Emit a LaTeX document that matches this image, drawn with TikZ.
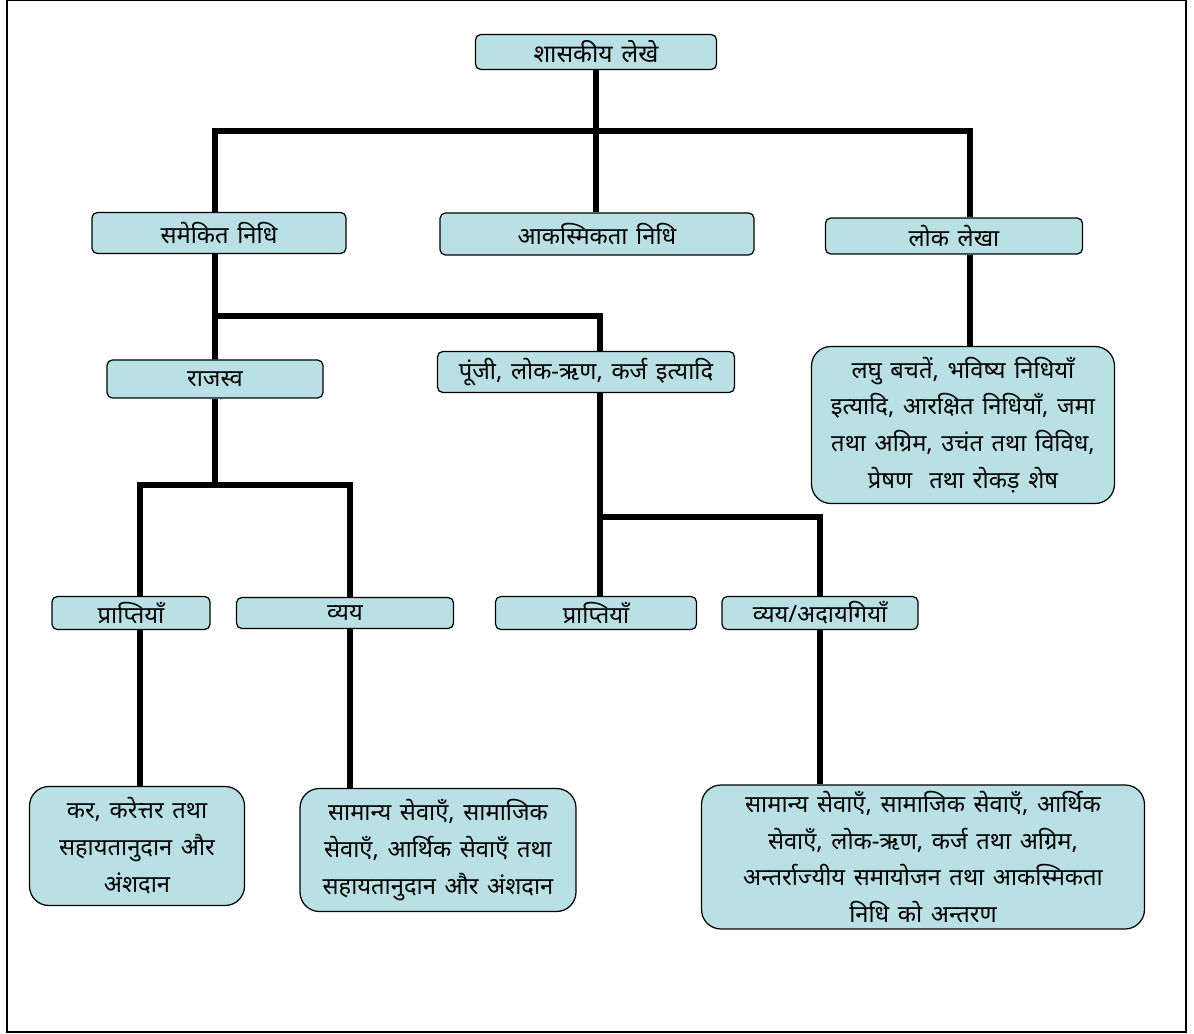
\documentclass[tikz,border=0pt]{standalone}
\usepackage{fontspec}
\newfontfamily\dev[Script=Devanagari,WordSpace=1.4]{Noto Sans}
\definecolor{boxfill}{RGB}{185,224,228}
\tikzset{
  box/.style={draw,fill=boxfill,rounded corners=3pt,line width=0.7pt,inner sep=0pt,
    font=\dev\fontsize{13.5}{21}\selectfont,align=center},
  bigbox/.style={box,rounded corners=11pt},
  link/.style={line width=3.2pt}
}
\begin{document}
\begin{tikzpicture}[x=0.02cm,y=-0.02cm]
\useasboundingbox (0,0) rectangle (1194,1034);
\draw[line width=0.8pt] (7,0.5) rectangle (1186,1032);
% boxes
\node[box,minimum width=4.82cm,minimum height=0.7cm,font=\dev\bfseries\fontsize{14}{21}\selectfont] (root) at (596,52) {शासकीय लेखे};
\node[box,minimum width=5.08cm,minimum height=0.82cm] (sam) at (219,233) {समेकित निधि};
\node[box,minimum width=6.28cm,minimum height=0.84cm] (akas) at (597,234) {आकस्मिकता निधि};
\node[box,minimum width=5.14cm,minimum height=0.72cm] (lok) at (954,236) {लोक लेखा};
\node[box,minimum width=4.32cm,minimum height=0.76cm] (rev) at (215,379) {राजस्व};
\node[box,minimum width=5.94cm,minimum height=0.82cm] (cap) at (586,372) {पूंजी, लोक-ऋण, कर्ज इत्यादि};
\node[bigbox,minimum width=6.06cm,minimum height=3.14cm] (lokd) at (963,425)
  {लघु बचतें, भविष्य निधियाँ\\इत्यादि, आरक्षित निधियाँ, जमा\\तथा अग्रिम, उचंत तथा विविध,\\प्रेषण\ \ तथा रोकड़ शेष};
\node[box,minimum width=3.16cm,minimum height=0.66cm] (rrec) at (131,613) {प्राप्तियाँ};
\node[box,minimum width=4.34cm,minimum height=0.62cm] (rexp) at (345,613) {व्यय};
\node[box,minimum width=4.02cm,minimum height=0.66cm] (crec) at (596,613) {प्राप्तियाँ};
\node[box,minimum width=3.92cm,minimum height=0.66cm] (cexp) at (820,613) {व्यय/अदायगियाँ};
\node[bigbox,minimum width=4.3cm,minimum height=2.38cm] (tax) at (137,846)
  {कर, करेत्तर तथा\\सहायतानुदान और\\अंशदान};
\node[bigbox,minimum width=5.52cm,minimum height=2.46cm] (serv) at (438,850)
  {सामान्य सेवाएँ, सामाजिक\\सेवाएँ, आर्थिक सेवाएँ तथा\\सहायतानुदान और अंशदान};
\node[bigbox,minimum width=8.86cm,minimum height=2.88cm] (pay) at (923,857)
  {सामान्य सेवाएँ, सामाजिक सेवाएँ, आर्थिक\\सेवाएँ, लोक-ऋण, कर्ज तथा अग्रिम,\\अन्तर्राज्यीय समायोजन तथा आकस्मिकता\\निधि को अन्तरण};
% junctions
\coordinate (top) at (596,131);
\coordinate (mid) at (215,316);
\coordinate (rj) at (215,485);
\coordinate (cj) at (600,517);
% connectors
\draw[link] (root) -- (top);
\draw[link] ([xshift=-0.08cm]sam.north) |- (top);
\draw[link] (top) -| ([xshift=0.32cm]lok.north);
\draw[link] (top) -- (top |- akas.north);
\draw[link] ([xshift=0.32cm]lok.south) -- ([xshift=0.32cm]lok.south |- lokd.north);
\draw[link] ([xshift=-0.08cm]sam.south) -- (mid) -- (rev);
\draw[link] (mid) -| ([xshift=0.28cm]cap.north);
\draw[link] (rev) -- (rj);
\draw[link] (rj) -| ([xshift=0.18cm]rrec.north);
\draw[link] (rj) -| ([xshift=0.1cm]rexp.north);
\draw[link] ([xshift=0.28cm]cap.south) -- (cj);
\draw[link] (cj) -- ([xshift=0.08cm]crec.north);
\draw[link] (cj) -| (cexp);
\draw[link] ([xshift=0.18cm]rrec.south) -- ([xshift=0.18cm]rrec.south |- tax.north);
\draw[link] ([xshift=0.1cm]rexp.south) -- ([xshift=0.1cm]rexp.south |- serv.north);
\draw[link] (cexp) -- (cexp |- pay.north);
\end{tikzpicture}
\end{document}
